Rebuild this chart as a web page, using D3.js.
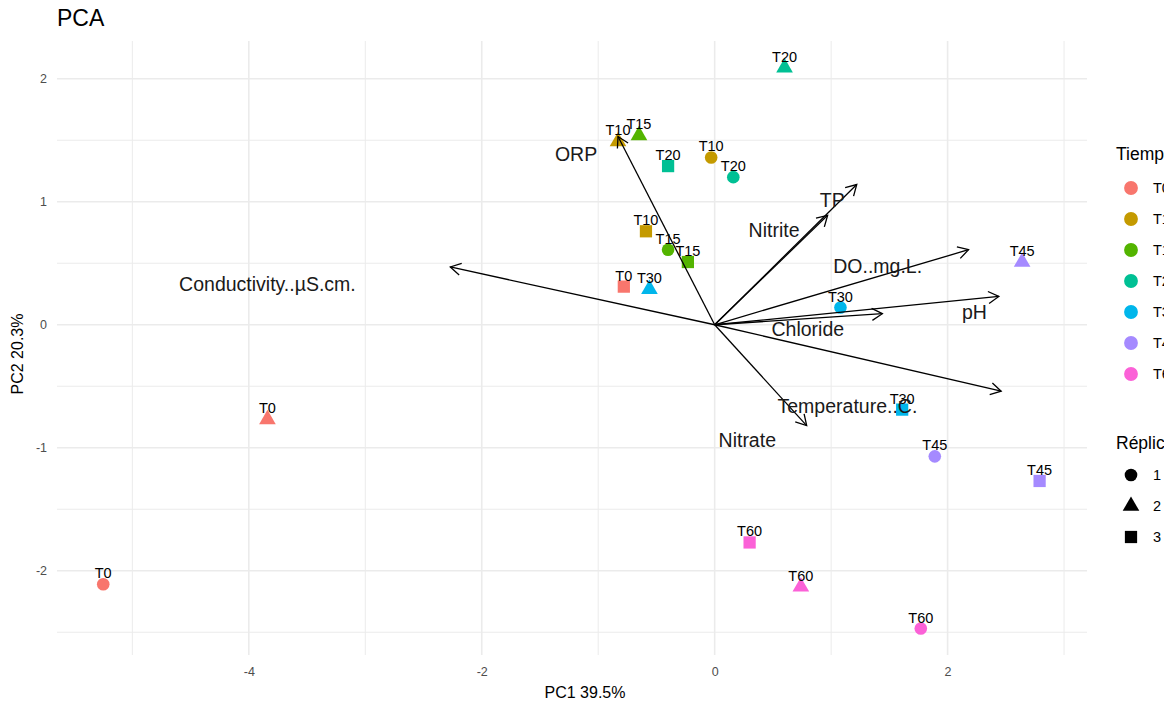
<!DOCTYPE html>
<html>
<head>
<meta charset="utf-8">
<script src="https://cdn.jsdelivr.net/npm/d3@7"></script>
<style>
  body { margin: 0; background: #fff; }
  svg { font-family: "Liberation Sans", Arial, sans-serif; display: block; }
</style>
</head>
<body>
<svg id="plot" width="1164" height="704"></svg>
<script>
// tiempos y colores (paleta hue de ggplot)
const tiempos = ['T0', 'T10', 'T15', 'T20', 'T30', 'T45', 'T60'];
const colores = ['#F8766D', '#C49A00', '#53B400', '#00C094', '#00B6EB', '#A58AFF', '#FB61D7'];
const replicas = ['1', '2', '3'];

// scores por réplica (orden = tiempos)
const pc1Rep1 = [-5.25, -0.03, -0.40, 0.16, 1.08, 1.89, 1.77];
const pc2Rep1 = [-2.11, 1.36, 0.61, 1.20, 0.14, -1.07, -2.47];
const pc1Rep2 = [-3.84, -0.83, -0.65, 0.60, -0.56, 2.64, 0.74];
const pc2Rep2 = [-0.77, 1.49, 1.54, 2.09, 0.29, 0.51, -2.13];
const pc1Rep3 = [-0.78, -0.59, -0.23, -0.40, 1.61, 2.79, 0.30];
const pc2Rep3 = [0.31, 0.76, 0.51, 1.29, -0.69, -1.27, -1.77];

// loadings
const variables = ['Conductivity..µS.cm.', 'ORP', 'TP', 'Nitrite', 'DO..mg.L.', 'pH', 'Chloride', 'Temperature..C.', 'Nitrate'];
const loadPC1 = [-2.27, -0.83, 1.22, 0.97, 2.18, 2.44, 1.44, 2.46, 0.79];
const loadPC2 = [0.47, 1.53, 1.14, 0.89, 0.61, 0.23, 0.09, -0.54, -0.82];
const labelPC1 = [-3.84, -1.19, 1.01, 0.51, 1.40, 2.23, 0.80, 1.14, 0.28];
const labelPC2 = [0.33, 1.39, 1.01, 0.77, 0.48, 0.10, -0.04, -0.66, -0.94];

const xTicks = [-4, -2, 0, 2];
const yTicks = [-2, -1, 0, 1, 2];
const xMinor = [-5, -3, -1, 1, 3];
const yMinor = [-2.5, -1.5, -0.5, 0.5, 1.5];

const W = 1164, H = 704;
const P = { left: 57, right: 1087, top: 41, bottom: 655 };

const svg = d3.select('#plot');
const x = d3.scaleLinear().domain([-5.647, 3.197]).range([P.left, P.right]);
const y = d3.scaleLinear().domain([-2.685, 2.307]).range([P.bottom, P.top]);

// --- grid ---
const grid = svg.append('g');
grid.selectAll('line.vmin').data(xMinor).join('line')
  .attr('x1', d => x(d)).attr('x2', d => x(d)).attr('y1', P.top).attr('y2', P.bottom)
  .attr('stroke', '#EBEBEB').attr('stroke-width', 1);
grid.selectAll('line.hmin').data(yMinor).join('line')
  .attr('y1', d => y(d)).attr('y2', d => y(d)).attr('x1', P.left).attr('x2', P.right)
  .attr('stroke', '#EBEBEB').attr('stroke-width', 1);
grid.selectAll('line.vmaj').data(xTicks).join('line')
  .attr('x1', d => x(d)).attr('x2', d => x(d)).attr('y1', P.top).attr('y2', P.bottom)
  .attr('stroke', '#EBEBEB').attr('stroke-width', 1.6);
grid.selectAll('line.hmaj').data(yTicks).join('line')
  .attr('y1', d => y(d)).attr('y2', d => y(d)).attr('x1', P.left).attr('x2', P.right)
  .attr('stroke', '#EBEBEB').attr('stroke-width', 1.6);

// --- axes (sin línea, solo etiquetas) ---
const ax = svg.append('g')
  .attr('transform', `translate(0,${P.bottom})`)
  .call(d3.axisBottom(x).tickValues(xTicks).tickSize(0).tickPadding(12).tickFormat(d => String(d)));
const ay = svg.append('g')
  .attr('transform', `translate(${P.left},0)`)
  .call(d3.axisLeft(y).tickValues(yTicks).tickSize(0).tickPadding(10).tickFormat(d => String(d)));
[ax, ay].forEach(g => {
  g.select('.domain').remove();
  g.selectAll('text').attr('fill', '#4D4D4D').style('font-size', '12.5px')
    .style('font-family', '"Liberation Sans", Arial, sans-serif');
});

svg.append('text').attr('x', 585).attr('y', 698)
  .attr('text-anchor', 'middle').style('font-size', '16px').text('PC1 39.5%');
svg.append('text').attr('transform', 'translate(23,354) rotate(-90)')
  .attr('text-anchor', 'middle').style('font-size', '16px').text('PC2 20.3%');
svg.append('text').attr('x', 57).attr('y', 26).style('font-size', '23px').text('PCA');

// --- puntos ---
const reps = [
  { shape: d3.symbolCircle, size: 125, pc1: pc1Rep1, pc2: pc2Rep1 },
  { shape: d3.symbolTriangle, size: 120, pc1: pc1Rep2, pc2: pc2Rep2 },
  { shape: d3.symbolSquare, size: 150, pc1: pc1Rep3, pc2: pc2Rep3 },
];
const pts = [];
reps.forEach((r, ri) => {
  tiempos.forEach((t, i) => pts.push({ t, col: colores[i], shape: r.shape, size: r.size, px: r.pc1[i], py: r.pc2[i] }));
});

const gPts = svg.append('g');
gPts.selectAll('path').data(pts).join('path')
  .attr('transform', d => `translate(${x(d.px)},${y(d.py)})`)
  .attr('d', d => d3.symbol().type(d.shape).size(d.size)())
  .attr('fill', d => d.col);

// --- flechas de loadings ---
const gArr = svg.append('g');
const x0 = x(0), y0 = y(0);
variables.forEach((v, i) => {
  const tx = x(loadPC1[i]), ty = y(loadPC2[i]);
  const ang = Math.atan2(ty - y0, tx - x0);
  const L = 12, a = Math.PI / 6;
  gArr.append('line').attr('x1', x0).attr('y1', y0).attr('x2', tx).attr('y2', ty)
    .attr('stroke', '#000').attr('stroke-width', 1.3);
  const head = [
    [tx - L * Math.cos(ang - a), ty - L * Math.sin(ang - a)],
    [tx, ty],
    [tx - L * Math.cos(ang + a), ty - L * Math.sin(ang + a)],
  ];
  gArr.append('path').attr('d', d3.line()(head))
    .attr('fill', 'none').attr('stroke', '#000').attr('stroke-width', 1.3);
});

// etiquetas de puntos
gPts.selectAll('text').data(pts).join('text')
  .attr('x', d => x(d.px)).attr('y', d => y(d.py) - 6)
  .attr('text-anchor', 'middle').style('font-size', '14.5px').attr('fill', '#000')
  .text(d => d.t);

// etiquetas de loadings
svg.append('g').selectAll('text').data(variables).join('text')
  .attr('x', (d, i) => x(labelPC1[i])).attr('y', (d, i) => y(labelPC2[i]))
  .attr('dy', '0.35em').attr('text-anchor', 'middle')
  .style('font-size', '19.5px').attr('fill', '#1a1a1a')
  .text(d => d);

// --- leyendas ---
const lg = svg.append('g');
lg.append('text').attr('x', 1116).attr('y', 160).style('font-size', '17.5px').text('Tiempo');
tiempos.forEach((t, i) => {
  const cy = 188 + i * 31;
  lg.append('path').attr('transform', `translate(1131,${cy})`)
    .attr('d', d3.symbol().type(d3.symbolCircle).size(150)()).attr('fill', colores[i]);
  lg.append('text').attr('x', 1153).attr('y', cy).attr('dy', '0.35em')
    .style('font-size', '14.5px').text(t);
});
lg.append('text').attr('x', 1116).attr('y', 449).style('font-size', '17.5px').text('Réplica');
const shapes = [d3.symbolCircle, d3.symbolTriangle, d3.symbolSquare];
replicas.forEach((r, i) => {
  const cy = 475 + i * 31;
  lg.append('path').attr('transform', `translate(1131,${cy})`)
    .attr('d', d3.symbol().type(shapes[i]).size(reps[i].size)()).attr('fill', '#000');
  lg.append('text').attr('x', 1153).attr('y', cy).attr('dy', '0.35em')
    .style('font-size', '14.5px').text(r);
});
</script>
</body>
</html>
